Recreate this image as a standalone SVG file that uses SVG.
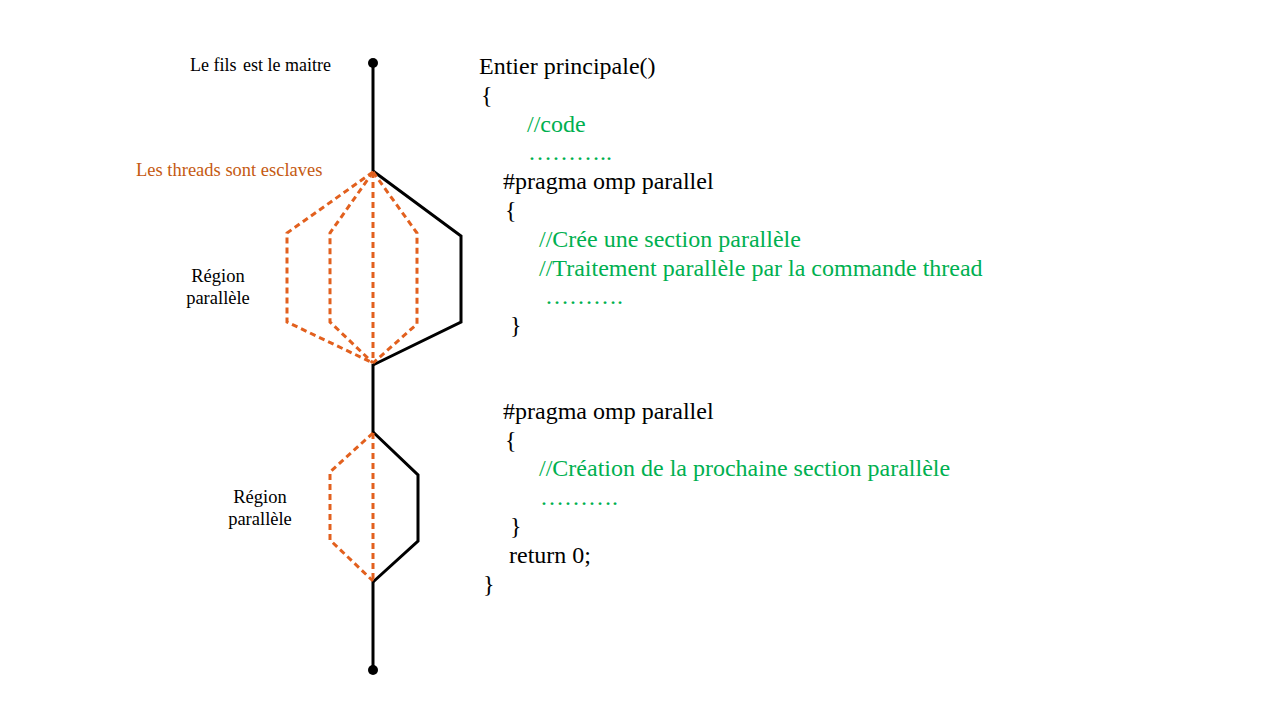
<svg xmlns="http://www.w3.org/2000/svg" width="1280" height="720" viewBox="0 0 1280 720">
<style>
  .bk { fill: none; stroke: #000; stroke-width: 3; stroke-linejoin: miter; }
  .dsh { fill: none; stroke: #E2601E; stroke-width: 3; stroke-dasharray: 6 4; }
  .lbl { font-family: "Liberation Serif", "Times New Roman", serif; font-size: 18.5px; fill: #000; }
  .org { fill: #C55A11; }
  .code { font-family: "Liberation Serif", "Times New Roman", serif; font-size: 24px; fill: #000; }
  .grn { fill: #00B050; }
</style>
<rect width="1280" height="720" fill="#fff"/>

<g id="connectors">
  <line class="bk" x1="373" y1="63" x2="373" y2="171"/>
  <line class="bk" x1="373" y1="364" x2="373" y2="433"/>
  <line class="bk" x1="373" y1="581" x2="373" y2="670"/>
</g>

<g id="master-start">
  <circle cx="373" cy="63" r="5" fill="#000"/>
</g>
<g id="master-end">
  <circle cx="373" cy="670" r="5" fill="#000"/>
</g>

<g id="region1">
  <polyline class="bk" points="373,171 461,236 461,322 373,365"/>
  <polyline class="dsh" points="373,172 287,233 287,322 373,363"/>
  <polyline class="dsh" points="373,172 330,233 330,322 373,363"/>
  <polyline class="dsh" points="373,172 417,233 417,324 373,363"/>
  <line class="dsh" x1="373" y1="172" x2="373" y2="363"/>
</g>

<g id="region2">
  <polyline class="bk" points="373,432 418,475 418,541 373,582"/>
  <polyline class="dsh" points="373,433 330,472 330,540 373,581"/>
  <line class="dsh" x1="373" y1="433" x2="373" y2="581"/>
</g>

<g id="labels">
  <text class="lbl" x="190" y="71" style="font-size:18px">Le fils <tspan dx="2">est le maitre</tspan></text>
  <text class="lbl org" x="136" y="176">Les threads sont esclaves</text>
  <text class="lbl" x="218" y="282" text-anchor="middle">Région</text>
  <text class="lbl" x="218" y="304" text-anchor="middle">parallèle</text>
  <text class="lbl" x="260" y="503" text-anchor="middle">Région</text>
  <text class="lbl" x="260" y="525" text-anchor="middle">parallèle</text>
</g>

<g id="code">
  <text class="code" x="479" y="74">Entier principale()</text>
  <text class="code" x="481" y="103">{</text>
  <text class="code grn" x="527" y="132">//code</text>
  <text class="code grn" x="528" y="160">………..</text>
  <text class="code" x="503" y="189">#pragma omp parallel</text>
  <text class="code" x="505" y="218">{</text>
  <text class="code grn" x="539" y="247">//Crée une section parallèle</text>
  <text class="code grn" x="539" y="276">//Traitement parallèle par la commande thread</text>
  <text class="code grn" x="545" y="304">……….</text>
  <text class="code" x="510" y="333">}</text>

  <text class="code" x="503" y="419">#pragma omp parallel</text>
  <text class="code" x="505" y="448">{</text>
  <text class="code grn" x="539" y="476">//Création de la prochaine section parallèle</text>
  <text class="code grn" x="540" y="505">……….</text>
  <text class="code" x="510" y="534">}</text>
  <text class="code" x="509" y="563">return 0;</text>
  <text class="code" x="483" y="592">}</text>
</g>
</svg>
